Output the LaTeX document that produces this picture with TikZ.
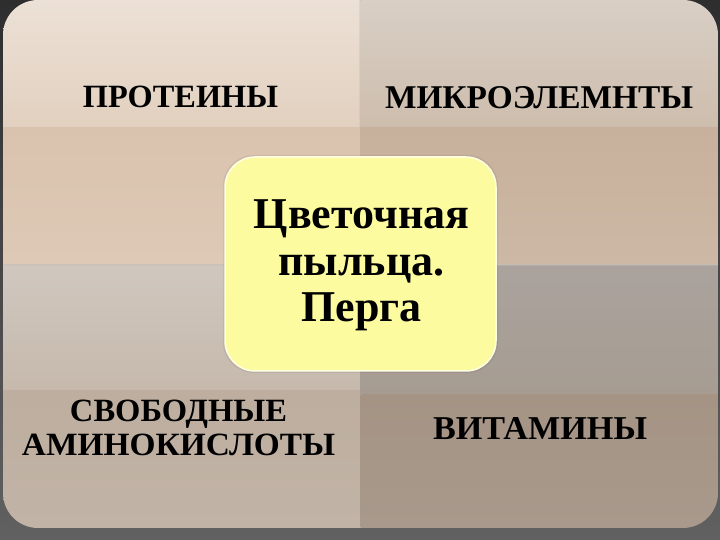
\documentclass[tikz,border=0pt]{standalone}
\usepackage{fontspec}
\setmainfont{Liberation Serif}
\definecolor{tlA}{HTML}{ECE1D6}\definecolor{tlB}{HTML}{E2D0BF}
\definecolor{tlC}{HTML}{DAC3AE}\definecolor{tlD}{HTML}{DDC9B6}
\definecolor{trA}{HTML}{D9CFC5}\definecolor{trB}{HTML}{CDBDAD}
\definecolor{trC}{HTML}{C8B19C}\definecolor{trD}{HTML}{CCB8A5}
\definecolor{blA}{HTML}{D0C7BF}\definecolor{blB}{HTML}{C6B9AC}
\definecolor{blC}{HTML}{BDAE9F}\definecolor{blD}{HTML}{C1B3A6}
\definecolor{brA}{HTML}{AAA39D}\definecolor{brB}{HTML}{A69C92}
\definecolor{brC}{HTML}{A59484}\definecolor{brD}{HTML}{A8998C}
\definecolor{boxfill}{HTML}{FDFB9F}
\definecolor{boxedge}{HTML}{FFFFE4}
\definecolor{gapcol}{HTML}{C4BEB8}
\tikzset{
  lab/.style={inner sep=0pt, text=black, font=\bfseries\fontsize{25}{34}\selectfont, align=center},
  centre/.style={inner sep=0pt, text=black, font=\bfseries\fontsize{44}{46.5}\selectfont, align=center}
}
\begin{document}
\begin{tikzpicture}[x=1pt,y=1pt]
\useasboundingbox (0,0) rectangle (720,540);
% background
\shade[top color=black!82, bottom color=black!62] (0,0) rectangle (720,540);
\fill[gapcol] (358,12) rectangle (362,540);
\fill[gapcol] (3,273) rectangle (718,277);
% top-left quadrant
\begin{scope}
\clip (3,275.5) -- (3,505) arc[start angle=180, end angle=90, radius=35] -- (359.5,540) -- (359.5,275.5) -- cycle;
\shade[top color=tlA, bottom color=tlB] (3,412) rectangle (360,540);
\shade[top color=tlC, bottom color=tlD] (3,275) rectangle (360,412);
\end{scope}
% top-right quadrant
\begin{scope}
\clip (360.5,275.5) -- (360.5,540) -- (683,540) arc[start angle=90, end angle=0, radius=35] -- (718,275.5) -- cycle;
\shade[top color=trA, bottom color=trB] (360,412) rectangle (718,540);
\shade[top color=trC, bottom color=trD] (360,275) rectangle (718,412);
\end{scope}
% bottom-left quadrant
\begin{scope}
\clip (3,274.5) -- (3,47) arc[start angle=180, end angle=270, radius=35] -- (359.5,12) -- (359.5,274.5) -- cycle;
\shade[top color=blA, bottom color=blB] (3,149) rectangle (360,275);
\shade[top color=blC, bottom color=blD] (3,12) rectangle (360,149);
\end{scope}
% bottom-right quadrant
\begin{scope}
\clip (360.5,274.5) -- (360.5,12) -- (683,12) arc[start angle=270, end angle=360, radius=35] -- (718,274.5) -- cycle;
\shade[top color=brA, bottom color=brB] (360,145) rectangle (718,275);
\shade[top color=brC, bottom color=brD] (360,12) rectangle (718,145);
\end{scope}
% labels
\node[lab, anchor=base] (prot) at (180.5,432) {\resizebox{195pt}{21.5pt}{ПРОТЕИНЫ}};
\node[lab, anchor=base] (micro) at (539,431) {\resizebox{308pt}{22pt}{МИКРОЭЛЕМНТЫ}};
\node[lab] (amino) at (178.5,111.75) {\resizebox{217pt}{21.5pt}{СВОБОДНЫЕ}\\\resizebox{313pt}{21.5pt}{АМИНОКИСЛОТЫ}};
\node[lab, anchor=base] (vit) at (540,100) {\resizebox{214pt}{22pt}{ВИТАМИНЫ}};
% centre box
\fill[black, opacity=0.06, rounded corners=31pt] (223,167) rectangle (498,385);
\draw[fill=boxfill, draw=boxedge, line width=1.5pt, rounded corners=30pt] (225,169) rectangle (496,383);
\node[centre] (pollen) at (361.5,274.3) {Цветочная\\пыльца.\\Перга};
\end{tikzpicture}
\end{document}
